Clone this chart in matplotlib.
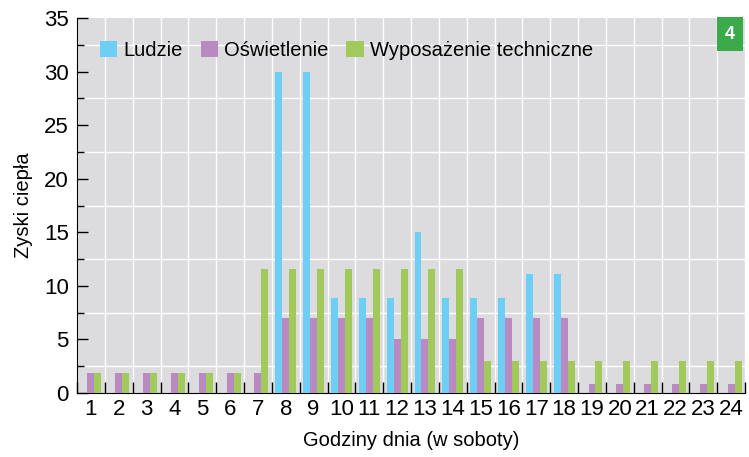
import numpy as np
import matplotlib.pyplot as plt

plt.rcParams["font.family"] = ["Liberation Sans", "DejaVu Sans"]

HOURS = [str(h) for h in range(1, 25)]
LUDZIE = [0, 0, 0, 0, 0, 0, 0, 30, 30, 8.9, 8.9, 8.9, 15, 8.9, 8.9, 8.9, 11.1, 11.1,
          0, 0, 0, 0, 0, 0]
OSWIETLENIE = [1.9, 1.9, 1.9, 1.9, 1.9, 1.9, 1.9, 7, 7, 7, 7, 5, 5, 5, 7, 7, 7, 7,
               0.8, 0.8, 0.8, 0.8, 0.8, 0.8]
WYPOSAZENIE = [1.9, 1.9, 1.9, 1.9, 1.9, 1.9, 11.6, 11.6, 11.6, 11.6, 11.6, 11.6,
               11.6, 11.6, 3, 3, 3, 3, 3, 3, 3, 3, 3, 3]
SERIES = [
    ("Ludzie", LUDZIE, "#6dcff6"),
    ("Oświetlenie", OSWIETLENIE, "#b98ac2"),
    ("Wyposażenie techniczne", WYPOSAZENIE, "#a2c95b"),
]

fig = plt.figure(figsize=(7.49, 4.57), dpi=100)
ax = fig.add_axes([0.1028, 0.140, 0.892, 0.8206])
ax.set_facecolor("#dcdcde")

x = np.arange(len(HOURS))
w = 0.25
for i, (label, vals, color) in enumerate(SERIES):
    ax.bar(x + (i - 1) * w, vals, width=w, color=color, label=label, zorder=3)

ax.set_xlim(-0.5, len(HOURS) - 0.5)
ax.set_ylim(0, 35)
ax.set_yticks(np.arange(0, 36, 5))
ax.set_yticks(np.arange(0, 35, 2.5), minor=True)
ax.set_xticks(x)
ax.set_xticklabels(HOURS)
ax.set_xticks(np.arange(-0.5, len(HOURS), 1), minor=True)

ax.grid(which="minor", color="white", lw=1.0, zorder=0)
ax.set_axisbelow(True)
ax.tick_params(axis="x", which="major", length=0, labelsize=16, pad=4)
ax.tick_params(axis="x", which="minor", direction="in", length=8, width=1)
ax.tick_params(axis="y", which="major", direction="in", length=8, width=1,
               labelsize=16, pad=6)
ax.tick_params(axis="y", which="minor", direction="in", length=5, width=1)
for s in ["top", "right"]:
    ax.spines[s].set_visible(False)
ax.spines["left"].set_color("black")
ax.spines["bottom"].set_color("black")

ax.set_xlabel("Godziny dnia (w soboty)", fontsize=14.5, labelpad=8)
ax.set_ylabel("Zyski ciepła", fontsize=14.5, labelpad=8)

ax.legend(loc="upper left", ncol=3, frameon=False, fontsize=14.5,
          handlelength=0.85, handleheight=0.85, handletextpad=0.3,
          columnspacing=0.9, bbox_to_anchor=(0.0, 1.0), borderaxespad=0.75)

fig.text(0.9746, 0.9255, "4", color="white", fontsize=13, fontweight="bold",
         ha="center", va="center",
         bbox=dict(boxstyle="square,pad=0.45", fc="#3aaa4a", ec="none"))

fig.savefig("out.png", dpi=100)
